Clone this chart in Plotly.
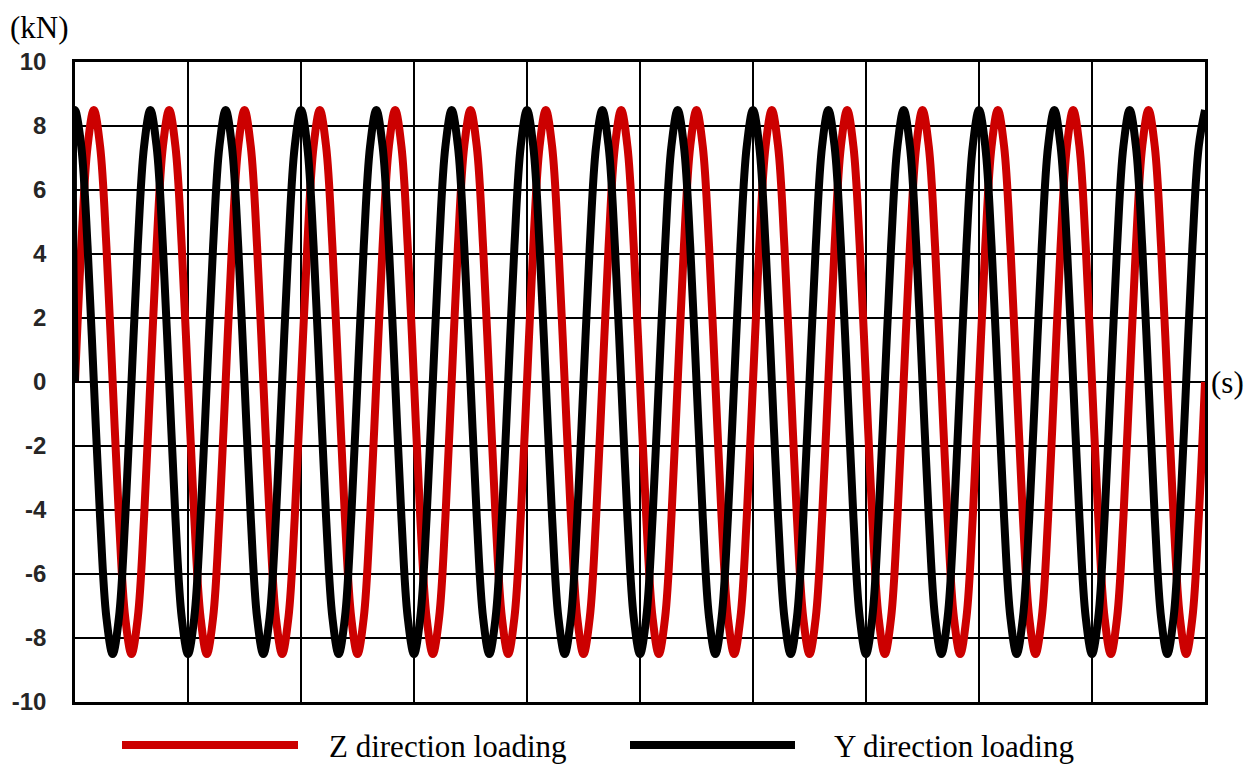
import plotly.graph_objects as go

# ---- data ----
# one cycle of each signal, sampled every 30 degrees (12 samples per cycle)
z_cycle = [0.0, 4.25, 7.36, 8.5, 7.36, 4.25, 0.0, -4.25, -7.36, -8.5, -7.36, -4.25]   # Z direction (starts at 0, rising)
y_cycle = [8.5, 7.36, 4.25, 0.0, -4.25, -7.36, -8.5, -7.36, -4.25, 0.0, 4.25, 7.36]   # Y direction (starts at peak)
n_cycles = 15            # number of full cycles visible across the chart
t_end = 10.0             # time span (s), 10 grid divisions
y_ticks = [-10, -8, -6, -4, -2, 0, 2, 4, 6, 8, 10]

series_names = ["Z direction loading", "Y direction loading"]
series_colors = ["#CC0000", "#000000"]

# ---- build series ----
n_per = len(z_cycle)
n_pts = n_cycles * n_per
t = [t_end * i / n_pts for i in range(n_pts + 1)]
z_vals = (z_cycle * n_cycles) + [z_cycle[0]]
y_vals = (y_cycle * n_cycles) + [y_cycle[0]]
# Y series begins at 0 at t=0 then jumps to its peak
t_y = [0.0] + t
y_vals_full = [0.0] + y_vals

# ---- geometry (figure pixels) ----
W, H = 1256, 765
L, T = 75, 62
PW, PH = 1130, 640
R = W - L - PW
B = H - T - PH


def px(xp):
    return (xp - L) / PW


def py(yp):
    return (T + PH - yp) / PH


fig = go.Figure()
fig.add_trace(go.Scatter(x=t, y=z_vals, mode="lines", name=series_names[0],
                         line=dict(color=series_colors[0], width=8, shape="spline", smoothing=1.0),
                         showlegend=False))
fig.add_trace(go.Scatter(x=t_y, y=y_vals_full, mode="lines", name=series_names[1],
                         line=dict(color=series_colors[1], width=8, shape="spline", smoothing=1.0),
                         showlegend=False))

fig.update_layout(
    width=W, height=H,
    margin=dict(l=L, r=R, t=T, b=B, pad=0),
    paper_bgcolor="white", plot_bgcolor="white",
    showlegend=False,
)
fig.update_xaxes(range=[0, t_end], dtick=t_end / 10, tick0=0, showticklabels=False,
                 showgrid=True, gridcolor="black", gridwidth=2, zeroline=False,
                 showline=True, mirror=True, linecolor="black", linewidth=2.5, ticks="",
                 automargin=False)
fig.update_yaxes(range=[-10, 10], tickvals=y_ticks, ticktext=[str(v) for v in y_ticks],
                 showgrid=True, gridcolor="black", gridwidth=2, zeroline=True,
                 zerolinecolor="black", zerolinewidth=2,
                 showline=True, mirror=True, linecolor="black", linewidth=2.5, ticks="",
                 ticklabelstandoff=21, automargin=False,
                 tickfont=dict(family="Liberation Sans", size=24, color="#262626", weight="bold"))

serif = dict(family="Liberation Serif", size=31, color="black")
annots = [
    dict(text="(kN)", x=px(8), y=py(27), xanchor="left", yanchor="middle"),
    dict(text="(s)", x=px(1209), y=py(382), xanchor="left", yanchor="middle"),
    dict(text=series_names[0], x=px(327), y=py(746), xanchor="left", yanchor="middle"),
    dict(text=series_names[1], x=px(832), y=py(746), xanchor="left", yanchor="middle"),
]
for a in annots:
    fig.add_annotation(xref="paper", yref="paper", showarrow=False, font=serif, **a)

# legend samples
for (x0, x1), col in zip([(122, 298), (630, 795)], series_colors):
    fig.add_shape(type="line", xref="paper", yref="paper",
                  x0=px(x0), x1=px(x1), y0=py(745), y1=py(745),
                  line=dict(color=col, width=8))

fig.write_html("out.html", config={"displayModeBar": False},
               post_script="document.body.style.margin='0';document.body.style.overflow='hidden';")
